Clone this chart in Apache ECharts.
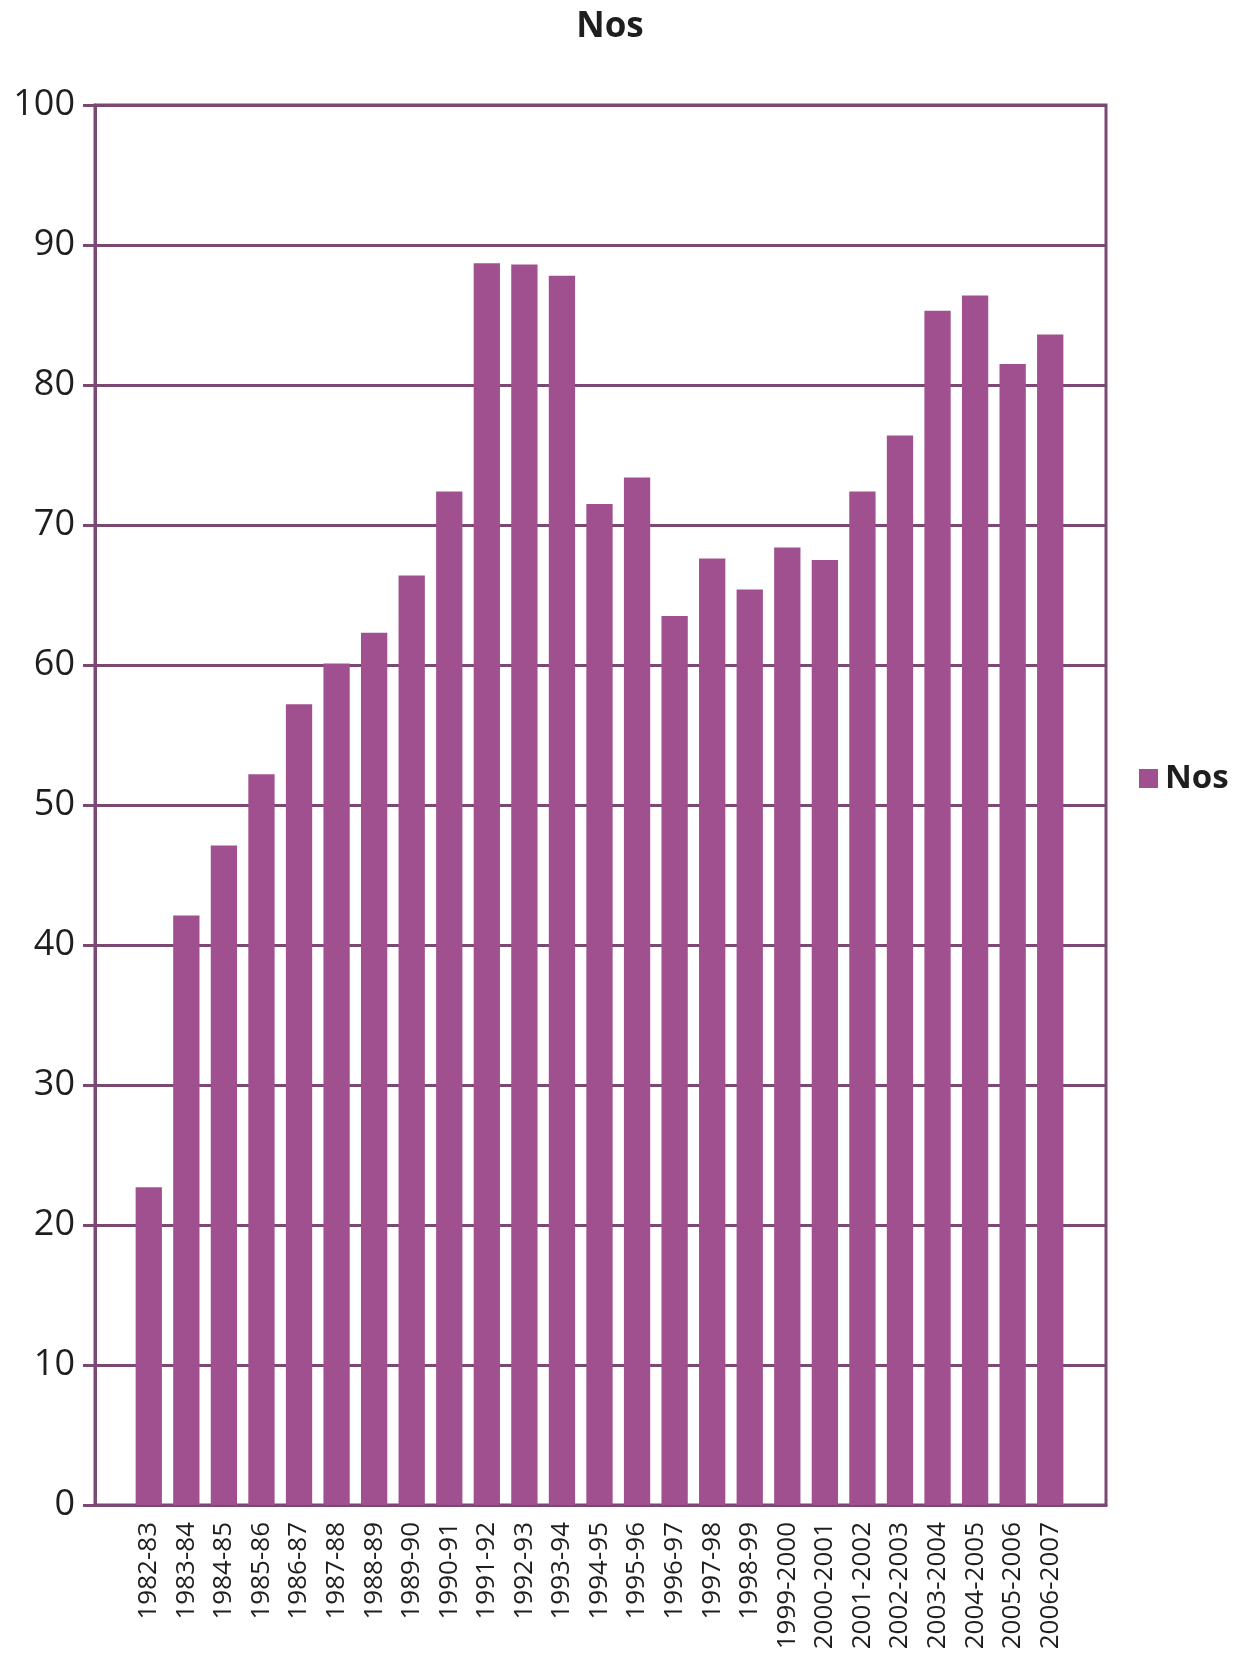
<!DOCTYPE html>
<html>
<head>
<meta charset="utf-8">
<script src="https://cdn.jsdelivr.net/npm/echarts@6/dist/echarts.min.js"></script>
<style>
  html, body { margin: 0; padding: 0; background: #ffffff; }
  #chart { width: 1241px; height: 1654px; }
</style>
</head>
<body>
<div id="chart"></div>
<script>
const titleText = 'Nos';
const seriesName = 'Nos';
const categories = ['1982-83','1983-84','1984-85','1985-86','1986-87','1987-88','1988-89','1989-90','1990-91','1991-92','1992-93','1993-94','1994-95','1995-96','1996-97','1997-98','1998-99','1999-2000','2000-2001','2001-2002','2002-2003','2003-2004','2004-2005','2005-2006','2006-2007'];
const values = [22.7, 42.1, 47.1, 52.2, 57.2, 60.1, 62.3, 66.4, 72.4, 88.7, 88.6, 87.8, 71.5, 73.4, 63.5, 67.6, 65.4, 68.4, 67.5, 72.4, 76.4, 85.3, 86.4, 81.5, 83.6];
const yMin = 0, yMax = 100, yInterval = 10;

const lineColor = '#7a4872';
const barColor = '#a0508f';
const textColor = '#1e1e1e';

const chart = echarts.init(document.getElementById('chart'), null, { renderer: 'canvas' });
chart.setOption({
  backgroundColor: '#ffffff',
  animation: false,
  title: {
    text: titleText,
    left: 605,
    textAlign: 'center',
    top: 5,
    textStyle: { fontFamily: 'Open Sans', fontWeight: 'bold', fontSize: 35, color: textColor }
  },
  legend: {
    show: true,
    data: [seriesName],
    orient: 'vertical',
    left: 1134,
    top: 757,
    icon: 'rect',
    itemWidth: 19,
    itemHeight: 19,
    itemGap: 4,
    textStyle: { fontFamily: 'Open Sans', fontWeight: 'bold', fontSize: 33, color: textColor, padding: [0, 0, 0, 2] }
  },
  grid: [
    { left: 95, right: 135, top: 105, bottom: 149, outerBoundsMode: 'none', containLabel: false, show: true, borderColor: lineColor, borderWidth: 3, backgroundColor: 'transparent' },
    { left: 130, right: 172, top: 105, bottom: 149, outerBoundsMode: 'none', containLabel: false }
  ],
  xAxis: [
    {
      gridIndex: 0, type: 'value', min: 0, max: 1,
      axisLine: { show: true, lineStyle: { color: lineColor, width: 3 } },
      axisTick: { show: false }, axisLabel: { show: false }, splitLine: { show: false }
    },
    {
      gridIndex: 1, type: 'category', data: categories,
      axisLine: { show: false }, axisTick: { show: false }, splitLine: { show: false },
      axisLabel: { rotate: 90, margin: 17, interval: 0, fontFamily: 'Open Sans', fontSize: 26, color: textColor }
    }
  ],
  yAxis: [
    {
      gridIndex: 0, type: 'value', min: yMin, max: yMax, interval: yInterval,
      axisLine: { show: true, lineStyle: { color: lineColor, width: 3 } },
      axisTick: { show: true, length: 12, lineStyle: { color: lineColor, width: 3 } },
      axisLabel: { margin: 20, fontFamily: 'Open Sans', fontSize: 36, color: textColor },
      splitLine: { show: true, lineStyle: { color: lineColor, width: 3 } }
    },
    {
      gridIndex: 1, type: 'value', min: yMin, max: yMax, interval: yInterval, show: false
    }
  ],
  series: [
    {
      name: seriesName, type: 'bar', xAxisIndex: 1, yAxisIndex: 1,
      data: values, barCategoryGap: '30%',
      itemStyle: { color: barColor }
    }
  ]
});
</script>
</body>
</html>
